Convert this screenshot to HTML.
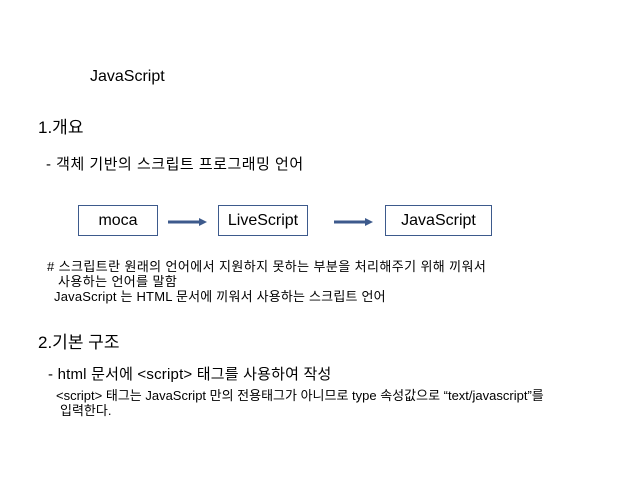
<!DOCTYPE html>
<html><head><meta charset="utf-8"><style>
body{margin:0;width:640px;height:480px;background:#fff;position:relative;overflow:hidden;font-family:"Liberation Sans","Noto Sans CJK KR",sans-serif;color:#000}
.t{position:absolute;white-space:nowrap;line-height:1}
.b{position:absolute;border:1.5px solid #3d5a8c;box-sizing:border-box;display:flex;align-items:center;justify-content:center;font-size:16px}
</style></head><body>
<div class="t" style="left:90px;top:69px;font-size:16px">JavaScript</div>
<div class="t" style="left:38px;top:119px;font-size:17px">1.개요</div>
<div class="t" style="left:46px;top:157px;font-size:15px;letter-spacing:0.5px">- 객체 기반의 스크립트 프로그래밍 언어</div>
<div class="b" style="left:78px;top:205px;width:80px;height:31px">moca</div>
<div class="b" style="left:218px;top:205px;width:90px;height:31px">LiveScript</div>
<div class="b" style="left:385px;top:205px;width:107px;height:31px">JavaScript</div>
<svg style="position:absolute;left:0;top:0" width="640" height="480">
<line x1="168" y1="222" x2="200" y2="222" stroke="#3d5a8c" stroke-width="3"/>
<polygon points="199,218 207,222 199,226" fill="#3d5a8c"/>
<line x1="334" y1="222" x2="366" y2="222" stroke="#3d5a8c" stroke-width="3"/>
<polygon points="365,218 373,222 365,226" fill="#3d5a8c"/>
</svg>
<div class="t" style="left:47px;top:260px;font-size:13px;letter-spacing:0.4px"># 스크립트란 원래의 언어에서 지원하지 못하는 부분을 처리해주기 위해 끼워서</div>
<div class="t" style="left:58px;top:275px;font-size:13px;letter-spacing:0.4px">사용하는 언어를 말함</div>
<div class="t" style="left:54px;top:290px;font-size:13px;letter-spacing:0.2px">JavaScript 는 HTML 문서에 끼워서 사용하는 스크립트 언어</div>
<div class="t" style="left:38px;top:334px;font-size:17px">2.기본 구조</div>
<div class="t" style="left:48px;top:367px;font-size:15px;letter-spacing:0.2px">- html 문서에 &lt;script&gt; 태그를 사용하여 작성</div>
<div class="t" style="left:56px;top:389px;font-size:13px">&lt;script&gt; 태그는 JavaScript 만의 전용태그가 아니므로 type 속성값으로 “text/javascript”를</div>
<div class="t" style="left:60px;top:404px;font-size:13px">입력한다.</div>
</body></html>
